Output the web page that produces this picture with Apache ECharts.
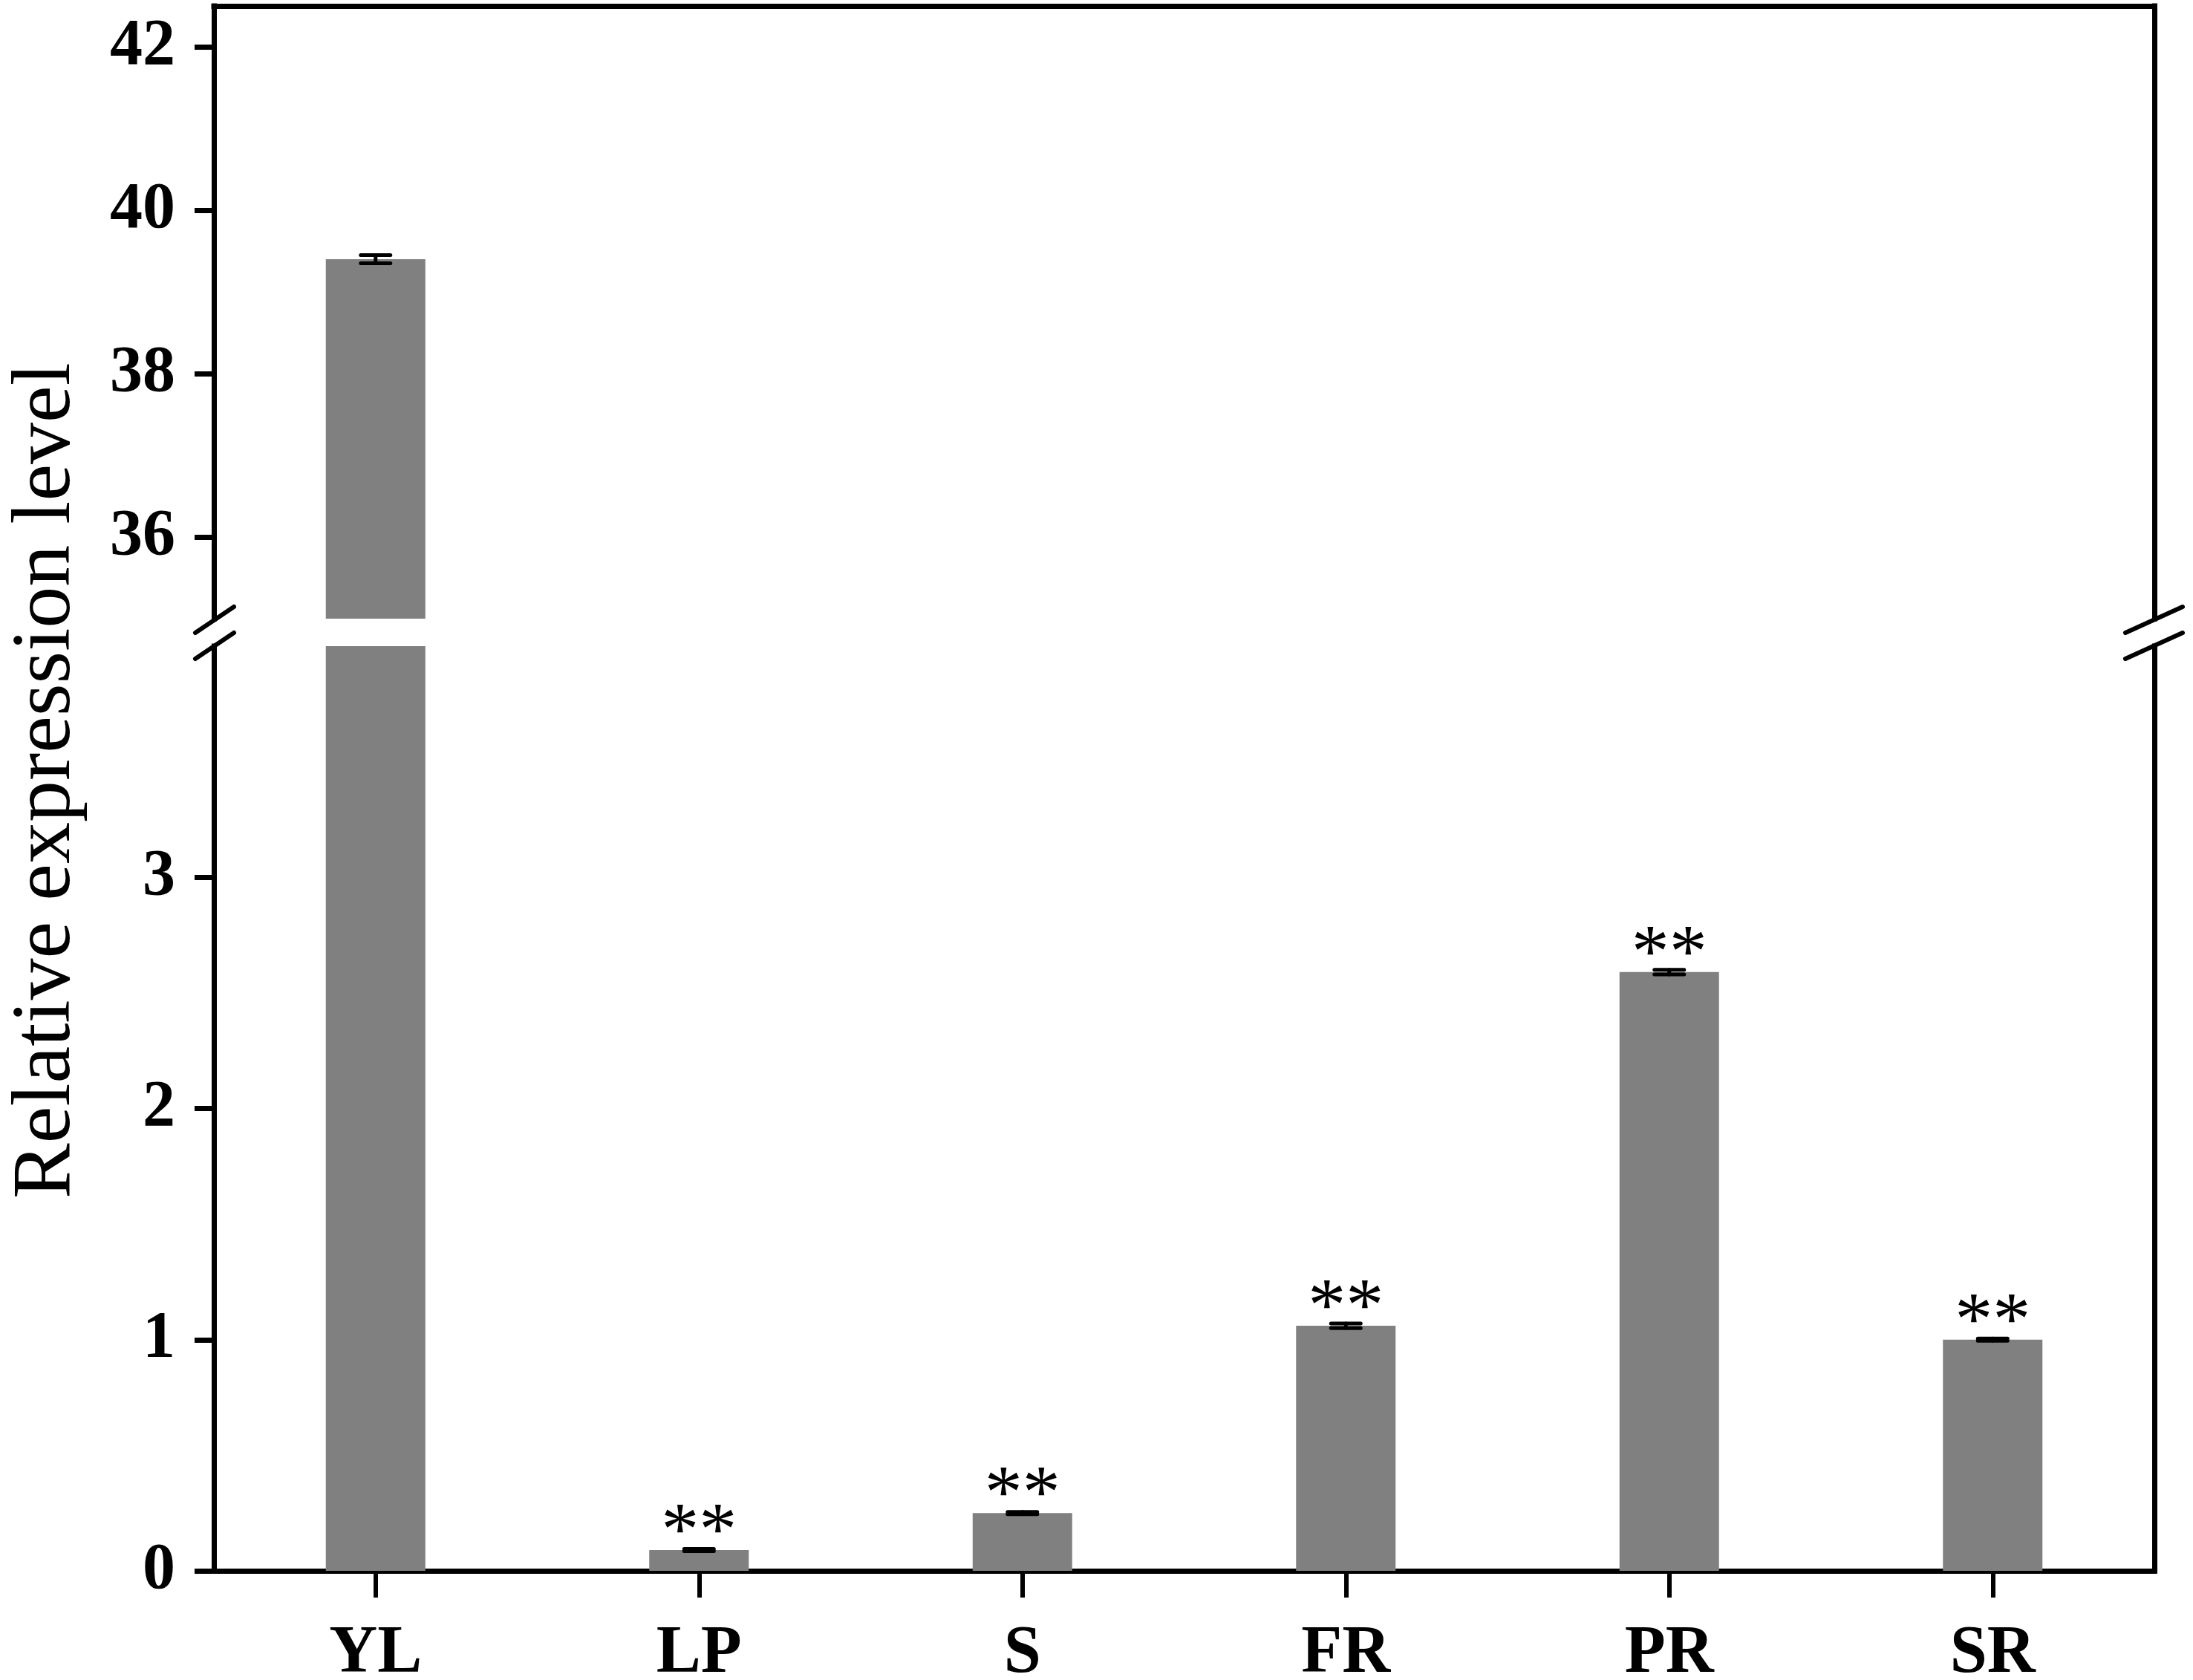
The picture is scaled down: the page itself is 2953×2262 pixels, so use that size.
<!DOCTYPE html>
<html>
<head>
<meta charset="utf-8">
<script src="https://cdn.jsdelivr.net/npm/echarts@6/dist/echarts.min.js"></script>
<style>
html,body{margin:0;padding:0;background:#fff;}
#chart{width:2953px;height:2262px;}
</style>
</head>
<body>
<div id="chart"></div>
<script>
// ---- data ----
const categories = ['YL', 'LP', 'S', 'FR', 'PR', 'SR'];
const values = [39.40, 0.09, 0.25, 1.06, 2.59, 1.00];
const errors = [0.05, 0.005, 0.005, 0.01, 0.01, 0.005];
const marks = ['', '**', '**', '**', '**', '**'];
const upperTicks = [36, 38, 40, 42];
const lowerTicks = [0, 1, 2, 3];
const upperRange = [35, 42.5];
const lowerRange = [0, 4];
const yTitle = 'Relative expression level';

// ---- styles ----
const SERIF = '"Liberation Serif", "Times New Roman", serif';
const FRAME = 7;
const chart = echarts.init(document.getElementById('chart'), null, {renderer: 'canvas'});

function frameAxisLine() {
  return {show: true, lineStyle: {color: '#000', width: FRAME, cap: 'square'}};
}

function errorSeries(xi, yi, range) {
  return {
    type: 'custom',
    xAxisIndex: xi,
    yAxisIndex: yi,
    z: 10,
    clip: false,
    data: categories.map((c, i) => [i, values[i], errors[i]]),
    renderItem: function (params, api) {
      const i = api.value(0), m = api.value(1), e = api.value(2);
      if (m < range[0] || m > range[1]) return null;
      const top = api.coord([i, m + e]);
      const bot = api.coord([i, m - e]);
      const hw = 20;
      const st = {stroke: '#000', lineWidth: 5, lineCap: 'round'};
      return {
        type: 'group',
        children: [
          {type: 'line', shape: {x1: top[0], y1: top[1], x2: bot[0], y2: bot[1]}, style: st},
          {type: 'line', shape: {x1: top[0] - hw, y1: top[1], x2: top[0] + hw, y2: top[1]}, style: st},
          {type: 'line', shape: {x1: bot[0] - hw, y1: bot[1], x2: bot[0] + hw, y2: bot[1]}, style: st}
        ]
      };
    }
  };
}

const option = {
  animation: false,
  backgroundColor: '#fff',
  grid: [
    {left: 288, right: 52, top: 8, height: 825, containLabel: false, outerBoundsMode: 'none'},
    {left: 288, right: 52, top: 870, height: 1245, containLabel: false, outerBoundsMode: 'none'}
  ],
  xAxis: [
    {
      type: 'category', gridIndex: 0, data: categories, position: 'top',
      axisLine: frameAxisLine(), axisTick: {show: false}, axisLabel: {show: false},
      splitLine: {show: false}
    },
    {
      type: 'category', gridIndex: 1, data: categories, position: 'bottom',
      axisLine: frameAxisLine(),
      axisTick: {show: true, alignWithLabel: true, length: 36, inside: false,
        lineStyle: {color: '#000', width: 6}},
      axisLabel: {show: true, margin: 68, color: '#000', fontFamily: SERIF,
        fontWeight: 'bold', fontSize: 90},
      splitLine: {show: false}
    }
  ],
  yAxis: [
    {
      type: 'value', gridIndex: 0, min: upperRange[0], max: upperRange[1], position: 'left',
      axisLine: frameAxisLine(),
      axisTick: {show: true, length: 26, inside: false, customValues: upperTicks,
        lineStyle: {color: '#000', width: 7}},
      axisLabel: {show: true, customValues: upperTicks, margin: 52, color: '#000',
        fontFamily: SERIF, fontWeight: 'bold', fontSize: 88},
      splitLine: {show: false}
    },
    {
      type: 'value', gridIndex: 0, min: upperRange[0], max: upperRange[1], position: 'right',
      axisLine: frameAxisLine(), axisTick: {show: false}, axisLabel: {show: false},
      splitLine: {show: false}
    },
    {
      type: 'value', gridIndex: 1, min: lowerRange[0], max: lowerRange[1], position: 'left',
      axisLine: frameAxisLine(),
      axisTick: {show: true, length: 26, inside: false, customValues: lowerTicks,
        lineStyle: {color: '#000', width: 7}},
      axisLabel: {show: true, customValues: lowerTicks, margin: 52, color: '#000',
        fontFamily: SERIF, fontWeight: 'bold', fontSize: 88},
      splitLine: {show: false}
    },
    {
      type: 'value', gridIndex: 1, min: lowerRange[0], max: lowerRange[1], position: 'right',
      axisLine: frameAxisLine(), axisTick: {show: false}, axisLabel: {show: false},
      splitLine: {show: false}
    }
  ],
  series: [
    {
      type: 'bar', xAxisIndex: 0, yAxisIndex: 0, barWidth: 134, clip: true,
      itemStyle: {color: '#808080'},
      data: values.map(v => (v >= upperRange[0] ? v : '-'))
    },
    {
      type: 'bar', xAxisIndex: 1, yAxisIndex: 2, barWidth: 134, clip: true,
      itemStyle: {color: '#808080'},
      data: values,
      label: {
        show: true, position: 'top', distance: 0, offset: [0, 30],
        formatter: p => marks[p.dataIndex],
        color: '#000', fontFamily: SERIF, fontSize: 102
      }
    },
    errorSeries(0, 0, upperRange),
    errorSeries(1, 2, lowerRange)
  ],
  graphic: [
    {type: 'line', shape: {x1: 263, y1: 852, x2: 315, y2: 817},
      style: {stroke: '#000', lineWidth: 6, lineCap: 'round'}, z: 100},
    {type: 'line', shape: {x1: 263, y1: 887, x2: 315, y2: 852},
      style: {stroke: '#000', lineWidth: 6, lineCap: 'round'}, z: 100},
    {type: 'line', shape: {x1: 2862, y1: 852, x2: 2939, y2: 817},
      style: {stroke: '#000', lineWidth: 6, lineCap: 'round'}, z: 100},
    {type: 'line', shape: {x1: 2862, y1: 887, x2: 2939, y2: 852},
      style: {stroke: '#000', lineWidth: 6, lineCap: 'round'}, z: 100},
    {type: 'text', x: 64, y: 1051, rotation: Math.PI / 2,
      style: {text: yTitle, fill: '#000', font: '112px ' + SERIF,
        textAlign: 'center', textVerticalAlign: 'middle'}}
  ]
};
chart.setOption(option);
</script>
</body>
</html>
